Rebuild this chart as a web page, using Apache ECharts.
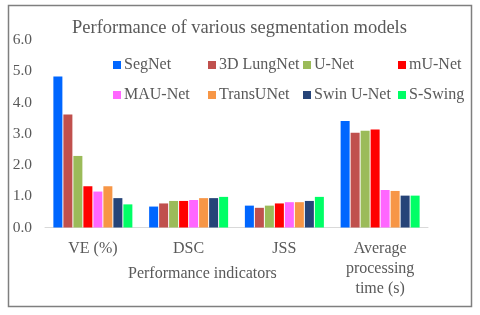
<!DOCTYPE html>
<html><head><meta charset="utf-8">
<script src="https://cdn.jsdelivr.net/npm/echarts@6/dist/echarts.min.js"></script>
<style>html,body{margin:0;padding:0;background:#fff}#c{width:480px;height:315px}</style>
</head><body><div id="c"></div>
<script>
const categories = ['VE (%)', 'DSC', 'JSS', 'Average\nprocessing\ntime (s)'];
const seriesNames = ['SegNet', '3D LungNet', 'U-Net', 'mU-Net', 'MAU-Net', 'TransUNet', 'Swin U-Net', 'S-Swing'];
const segNet    = [4.83, 0.67, 0.70, 3.41];
const lungNet   = [3.62, 0.77, 0.63, 3.03];
const uNet      = [2.29, 0.85, 0.70, 3.10];
const muNet     = [1.32, 0.85, 0.77, 3.14];
const mauNet    = [1.15, 0.88, 0.81, 1.20];
const transUNet = [1.32, 0.94, 0.81, 1.17];
const swinUNet  = [0.94, 0.94, 0.85, 1.02];
const sSwing    = [0.74, 0.98, 0.98, 1.02];
const yTicks = [0, 1, 2, 3, 4, 5, 6];

const values = [segNet, lungNet, uNet, muNet, mauNet, transUNet, swinUNet, sSwing];
const colors = ['#0066FF', '#C0504D', '#9BBB59', '#FF0000', '#FF66FF', '#F79646', '#264478', '#00FF66'];
const serif = '"Liberation Serif", "DejaVu Serif", serif';
const textColor = '#595959';

const legendPos = [[108,52],[203,52],[298,52],[393,52],[108,82],[203,82],[298,82],[393,82]];
const legends = seriesNames.map((n, i) => ({
  data: [n], left: legendPos[i][0], top: legendPos[i][1],
  itemWidth: 8, itemHeight: 8, icon: 'rect', itemGap: 0,
  textStyle: { fontFamily: serif, fontSize: 16, color: textColor, padding: [0,0,0,-2] }
}));

const chart = echarts.init(document.getElementById('c'), null, { renderer: 'canvas' });
chart.setOption({
  animation: false,
  backgroundColor: '#fff',
  title: [
    { text: 'Performance of various segmentation models', left: 67, top: 14,
      textStyle: { fontFamily: serif, fontSize: 18.5, fontWeight: 'normal', color: textColor } },
    { text: 'Performance indicators', left: 123, top: 261,
      textStyle: { fontFamily: serif, fontSize: 16, fontWeight: 'normal', color: textColor } }
  ],
  legend: legends,
  grid: { left: 45, right: 52, top: 40, bottom: 87.5, containLabel: false },
  xAxis: {
    type: 'category', data: categories,
    axisLine: { lineStyle: { color: '#d9d9d9', width: 1 } },
    axisTick: { show: false },
    axisLabel: { fontFamily: serif, fontSize: 16, color: textColor, lineHeight: 20, margin: 11 }
  },
  yAxis: {
    type: 'value', min: yTicks[0], max: yTicks[yTicks.length - 1], interval: 1,
    splitLine: { show: false },
    axisLine: { show: false }, axisTick: { show: false },
    axisLabel: { fontFamily: serif, fontSize: 15.5, color: textColor, margin: 13,
      formatter: v => v.toFixed(1) }
  },
  series: seriesNames.map((n, i) => ({
    name: n, type: 'bar', data: values[i],
    barGap: '11%', barCategoryGap: '17.5%',
    itemStyle: { color: colors[i] }
  })),
  graphic: [{
    type: 'rect', shape: { x: 8.5, y: 5.5, width: 463, height: 301 },
    style: { fill: 'none', stroke: '#7f7f7f', lineWidth: 1.5 }, z: 100
  }]
});
</script></body></html>
